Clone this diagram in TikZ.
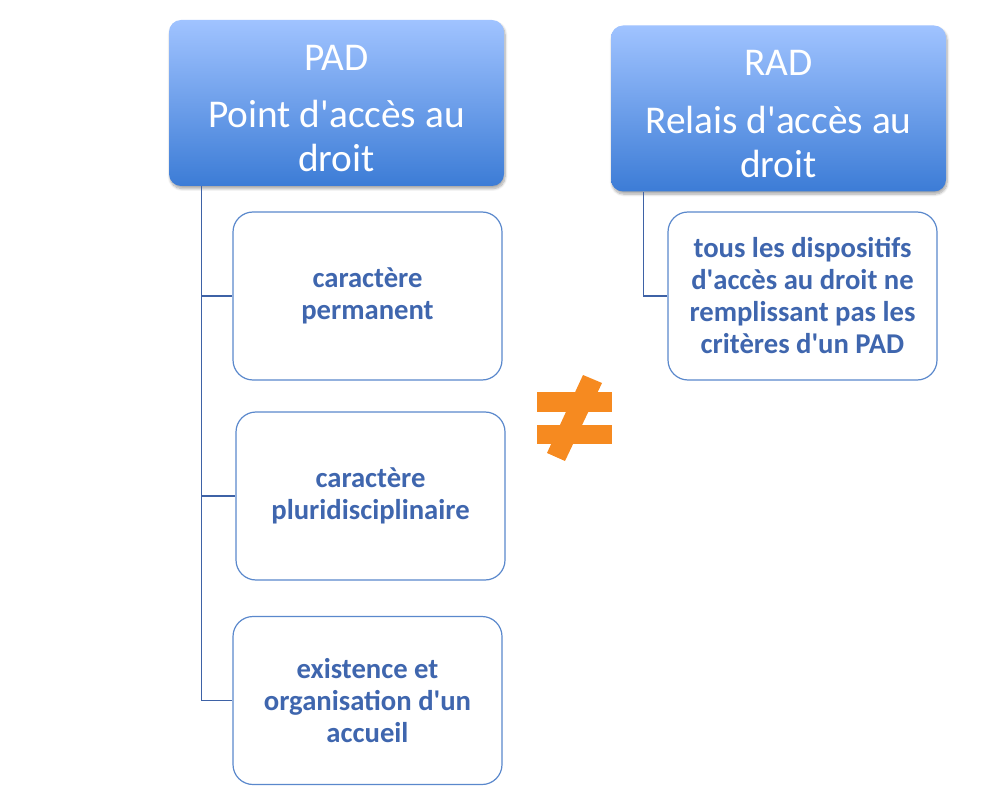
\documentclass[tikz,border=0pt]{standalone}
\usepackage{fontspec}
\setmainfont{Carlito}
\usetikzlibrary{shadows.blur}
\definecolor{hdtop}{HTML}{A0C3FF}
\definecolor{hdbot}{HTML}{3C7CD6}
\definecolor{boxline}{HTML}{5A88CC}
\definecolor{boxtext}{HTML}{3F66AE}
\definecolor{linkcol}{HTML}{3E62A6}
\definecolor{neqcol}{HTML}{F68A20}
\newcommand{\apos}{\textquotesingle}
\tikzset{
  header/.style={rounded corners=9pt, top color=hdtop, bottom color=hdbot,
    minimum width=251.25pt, minimum height=124.5pt, text=white, align=center,
    font=\fontsize{29.5}{33}\selectfont, inner sep=0pt,
    blur shadow={shadow blur steps=8, shadow xshift=0.8pt, shadow yshift=-2pt, shadow opacity=35}},
  child/.style={draw=boxline, line width=0.9pt, rounded corners=15pt, fill=white,
    minimum width=201.75pt, minimum height=126pt, text=boxtext, align=center,
    font=\bfseries\fontsize{21.5}{24}\selectfont, inner sep=0pt},
  link/.style={draw=linkcol, line width=1.1pt}
}
\begin{document}
\begin{tikzpicture}[x=0.75pt,y=-0.75pt]
\useasboundingbox (0,0) rectangle (1006,798);
\node[header] (pad) at (336.5,103) {\rule{0pt}{27pt}PAD\\[10pt]Point d\apos accès au\\droit};
\node[header] (rad) at (778.5,108.5) {\rule{0pt}{27pt}RAD\\[10pt]Relais d\apos accès au\\droit};
\node[child] (c1) at (367.5,296) {caractère\\permanent};
\node[child] (c2) at (370.5,496) {caractère\\pluridisciplinaire};
\node[child] (c3) at (367.5,700.5) {existence et\\organisation d\apos un\\accueil};
\node[child] (r1) at (802.5,296) {tous les dispositifs\\d\apos accès au droit ne\\remplissant pas les\\critères d\apos un PAD};
\coordinate (padroot) at ([xshift=24.75pt]pad.south west);
\coordinate (radroot) at ([xshift=24.75pt]rad.south west);
\draw[link] (padroot) |- (c1.west);
\draw[link] (padroot) |- (c2.west);
\draw[link] (padroot) |- (c3.west);
\draw[link] (radroot) |- (r1.west);
\fill[neqcol] (537,392) rectangle (611.5,411.5);
\fill[neqcol] (537,424.5) rectangle (611.5,443.5);
\fill[neqcol] (583,375) -- (602,383) -- (565,461) -- (547,453) -- cycle;
\end{tikzpicture}
\end{document}
